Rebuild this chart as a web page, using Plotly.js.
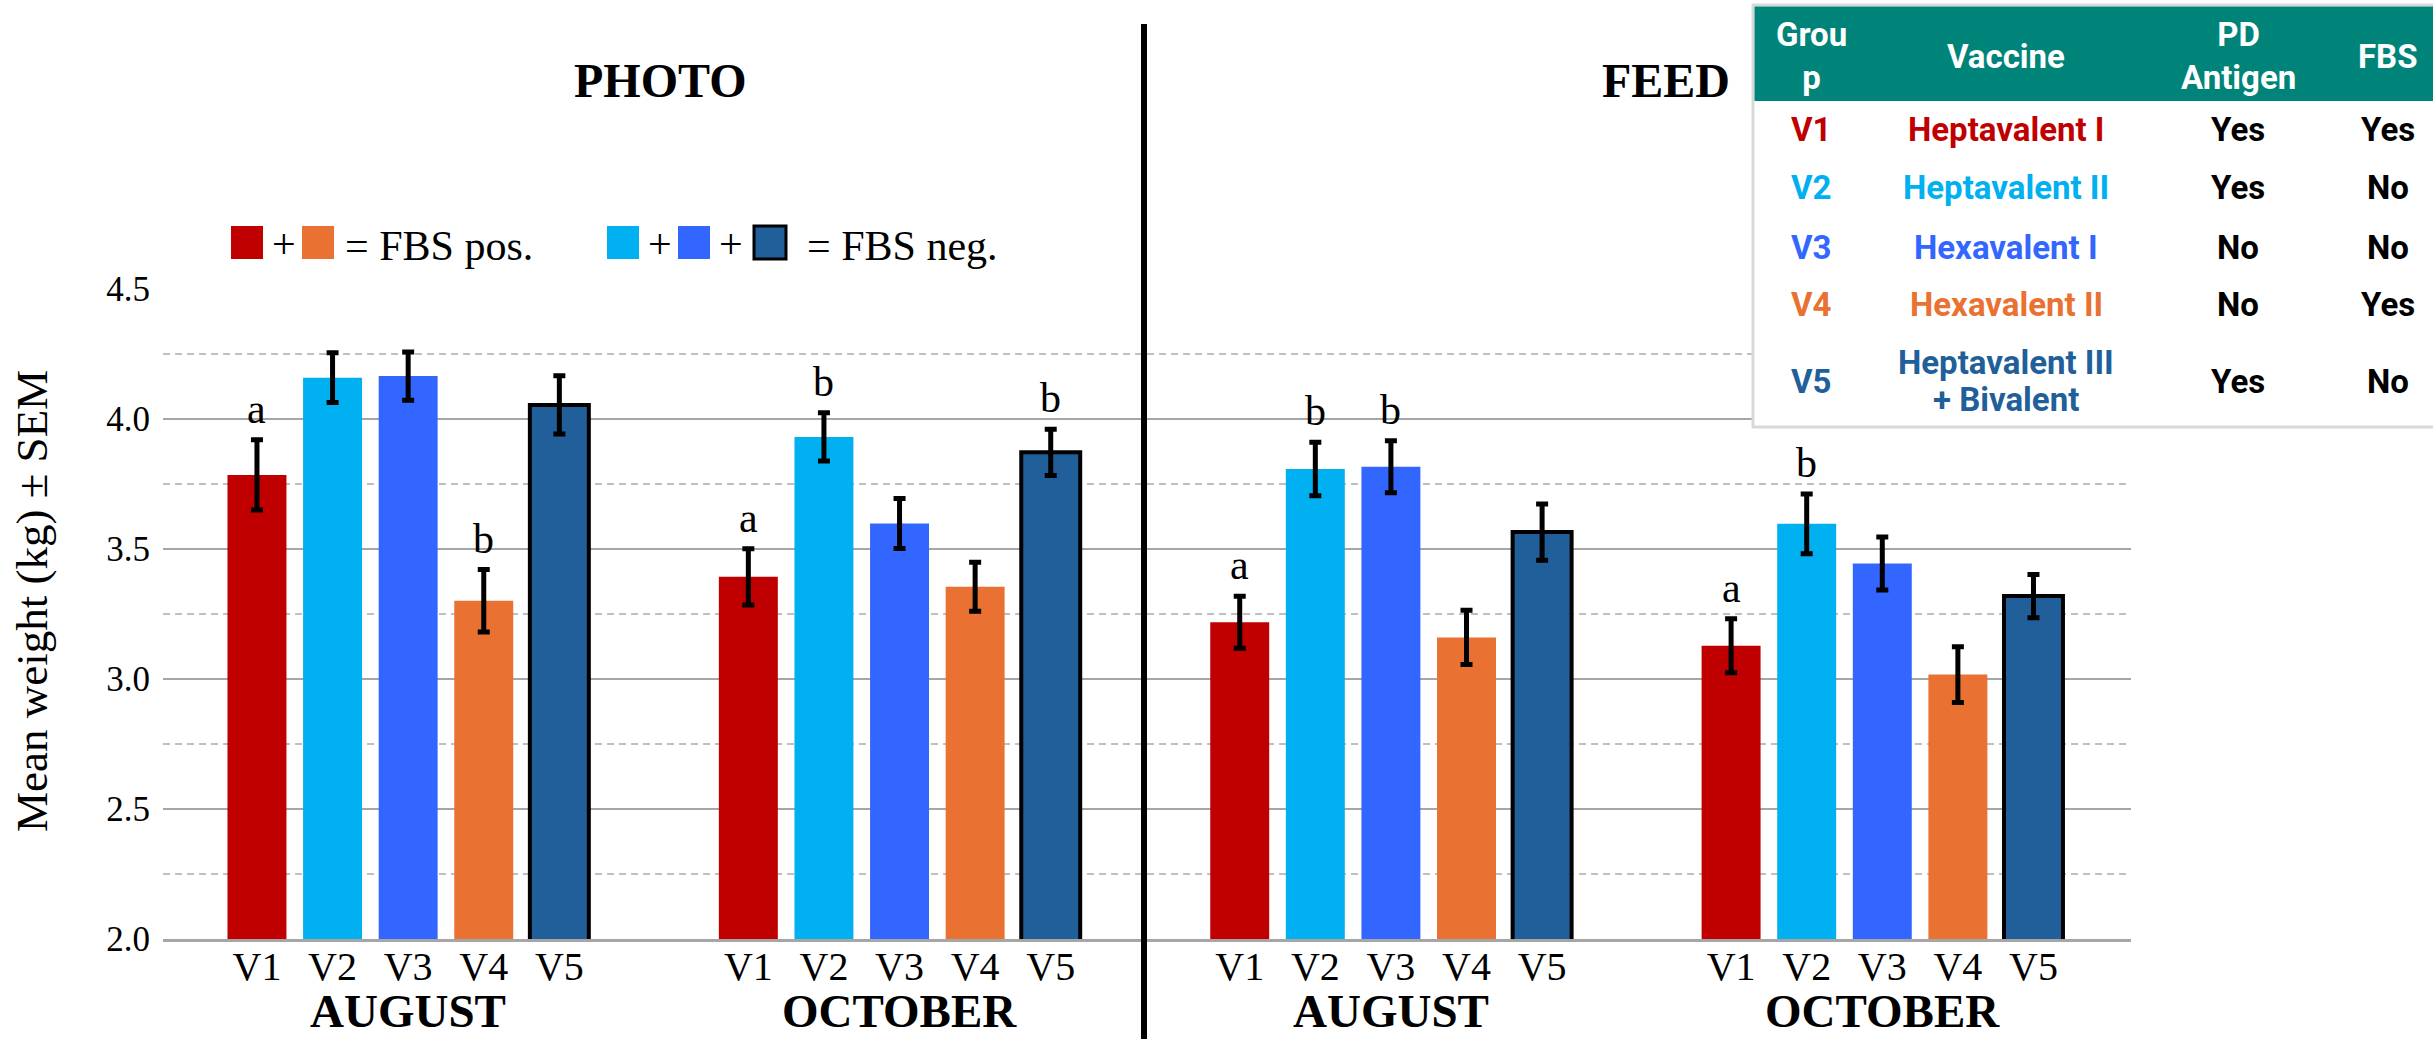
<!DOCTYPE html>
<html><head><meta charset="utf-8">
<script src="https://cdn.plot.ly/plotly-3.0.1.min.js"></script>
<style>html,body{margin:0;padding:0;background:#fff;overflow:hidden}</style>
</head><body><div id="chart" style="width:2433px;height:1039px"></div>
<script>
// ---------- data ----------
const vaccines = ['V1', 'V2', 'V3', 'V4', 'V5'];
const vaccineNames = ['Heptavalent I', 'Heptavalent II', 'Hexavalent I', 'Hexavalent II', 'Heptavalent III<br>+ Bivalent'];
const pdAntigen = ['Yes', 'Yes', 'No', 'No', 'Yes'];
const fbsStatus = ['Yes', 'No', 'No', 'Yes', 'No'];
const tableHeader = ['Grou<br>p', 'Vaccine', 'PD<br>Antigen', 'FBS'];
const panels = ['PHOTO', 'FEED'];
const months = ['AUGUST', 'OCTOBER', 'AUGUST', 'OCTOBER'];

const photoAugMean = [3.785, 4.159, 4.165, 3.301, 4.054];
const photoAugSem  = [0.135, 0.096, 0.093, 0.120, 0.112];
const photoOctMean = [3.393, 3.931, 3.598, 3.355, 3.872];
const photoOctSem  = [0.108, 0.093, 0.096, 0.094, 0.089];
const feedAugMean  = [3.218, 3.808, 3.816, 3.160, 3.565];
const feedAugSem   = [0.100, 0.103, 0.100, 0.104, 0.108];
const feedOctMean  = [3.128, 3.597, 3.444, 3.017, 3.319];
const feedOctSem   = [0.104, 0.115, 0.102, 0.107, 0.083];

const photoAugLetters = ['a', '', '', 'b', ''];
const photoOctLetters = ['a', 'b', '', '', 'b'];
const feedAugLetters  = ['a', 'b', 'b', '', ''];
const feedOctLetters  = ['a', 'b', '', '', ''];

const legendPos = ['= FBS pos.', '= FBS neg.'];

// ---------- styling / layout ----------
const colors = ['#C00000', '#00B0F0', '#3366FF', '#E97132', '#215F9A'];
const serif = 'Liberation Serif, Times New Roman, serif';
const sans = 'Roboto, Open Sans, sans-serif';
const W = 2433, H = 1039;
const L = 163, R = 2131, T = 289, B = 939;
const px = x => (x - L) / (R - L);
const py = y => (B - y) / (B - T);
const groupOffsets = [0, 6.5, 13, 19.5];
const means = [photoAugMean, photoOctMean, feedAugMean, feedOctMean];
const sems = [photoAugSem, photoOctSem, feedAugSem, feedOctSem];
const letters = [photoAugLetters, photoOctLetters, feedAugLetters, feedOctLetters];

const traces = vaccines.map((v, i) => ({
  type: 'bar',
  name: v,
  x: groupOffsets.map(o => o + i),
  y: means.map(m => m[i]),
  width: 0.78,
  marker: {color: colors[i], line: {color: '#000', width: i === 4 ? 4 : 0}},
  error_y: {type: 'data', array: sems.map(s => s[i]), visible: true, color: '#000', thickness: 5, width: 6},
  showlegend: false
}));

const tickvals = [], ticktext = [];
groupOffsets.forEach(o => vaccines.forEach((v, i) => { tickvals.push(o + i); ticktext.push(v); }));

const annotations = [];
// significance letters
letters.forEach((arr, g) => arr.forEach((t, i) => {
  if (!t) return;
  annotations.push({xref: 'x', yref: 'y', x: groupOffsets[g] + i, y: means[g][i] + sems[g][i],
    text: t, showarrow: false, yanchor: 'bottom', yshift: 6, font: {family: serif, size: 42, color: '#000'}});
}));
// month labels
months.forEach((m, g) => {
  annotations.push({xref: 'x', yref: 'paper', x: groupOffsets[g] + 2, y: py(1011), text: '<b>' + m + '</b>',
    showarrow: false, xanchor: 'center', yanchor: 'middle', font: {family: serif, size: 47, color: '#000'}});
});
// panel titles
[[660, panels[0]], [1666, panels[1]]].forEach(([xp, t]) => {
  annotations.push({xref: 'paper', yref: 'paper', x: px(xp), y: py(81), text: '<b>' + t + '</b>',
    showarrow: false, xanchor: 'center', yanchor: 'middle', font: {family: serif, size: 48, color: '#000'}});
});
// y title
annotations.push({xref: 'paper', yref: 'paper', x: px(32), y: py(601), text: 'Mean weight (kg) ± SEM',
  textangle: -90, showarrow: false, xanchor: 'center', yanchor: 'middle', font: {family: serif, size: 45, color: '#000'}});

// custom legend
const shapes = [];
const sq = (x0, c, border) => shapes.push({type: 'rect', xref: 'paper', yref: 'paper', layer: 'above',
  x0: px(x0), x1: px(x0 + 32), y0: py(259), y1: py(226), fillcolor: c,
  line: {color: '#000', width: border ? 3 : 0}});
sq(231, colors[0]); sq(302, colors[3]); sq(607, colors[1]); sq(678, colors[2]); sq(754, colors[4], true);
[284, 660, 731].forEach(xp => annotations.push({xref: 'paper', yref: 'paper', x: px(xp), y: py(244), text: '+',
  showarrow: false, xanchor: 'center', yanchor: 'middle', font: {family: serif, size: 42, color: '#000'}}));
[[343, legendPos[0]], [805, legendPos[1]]].forEach(([xp, t]) => annotations.push({xref: 'paper', yref: 'paper',
  x: px(xp), y: py(246), text: t, showarrow: false, xanchor: 'left', yanchor: 'middle',
  font: {family: serif, size: 42, color: '#000'}}));

// divider
shapes.push({type: 'line', xref: 'paper', yref: 'paper', layer: 'above', x0: px(1144), x1: px(1144),
  y0: py(1045), y1: py(24), line: {color: '#000', width: 6}});

// table
shapes.push({type: 'rect', xref: 'paper', yref: 'paper', layer: 'above', x0: px(1753), x1: px(2450),
  y0: py(427), y1: py(5), fillcolor: '#fff', line: {color: '#D9D9D9', width: 3}});
shapes.push({type: 'rect', xref: 'paper', yref: 'paper', layer: 'above', x0: px(1754.5), x1: px(2450),
  y0: py(101), y1: py(6.5), fillcolor: '#00847A', line: {width: 0}});
const colX = [1811, 2006, 2238, 2388];
tableHeader.forEach((h, c) => annotations.push({xref: 'paper', yref: 'paper', x: px(colX[c]), y: py(56),
  text: '<b>' + h + '</b>', showarrow: false, xanchor: 'center', yanchor: 'middle',
  font: {family: sans, size: 33, color: '#fff'}}));
const rowY = [130, 188, 247, 304, 381];
vaccines.forEach((v, r) => {
  const cell = (c, t, col, yy) => annotations.push({xref: 'paper', yref: 'paper', x: px(colX[c]), y: py(yy),
    text: '<b>' + t + '</b>', showarrow: false, xanchor: 'center', yanchor: 'middle',
    font: {family: sans, size: 33, color: col}});
  cell(0, v, colors[r], rowY[r]);
  const parts = vaccineNames[r].split('<br>');
  parts.forEach((p, k) => cell(1, p, colors[r], rowY[r] + (k - (parts.length - 1) / 2) * 37));
  cell(2, pdAntigen[r], '#000', rowY[r]);
  cell(3, fbsStatus[r], '#000', rowY[r]);
});

const layout = {
  width: W, height: H,
  margin: {l: L, r: W - R, t: T, b: H - B, pad: 0},
  paper_bgcolor: '#fff', plot_bgcolor: '#fff',
  barmode: 'overlay',
  showlegend: false,
  xaxis: {range: [-1.243, 24.79], tickvals: tickvals, ticktext: ticktext, ticks: '', showgrid: false,
    zeroline: false, showline: true, linecolor: '#A6A6A6', linewidth: 2.5, ticklabelstandoff: -10,
    tickfont: {family: serif, size: 40, color: '#000'}, fixedrange: true},
  yaxis: {range: [2, 4.5], dtick: 0.5, tick0: 2, tickformat: '.1f', ticks: '', showline: false, zeroline: false,
    gridcolor: '#A6A6A6', gridwidth: 2.5, ticklabelstandoff: 12,
    minor: {dtick: 0.25, tick0: 2, showgrid: true, gridcolor: '#BFBFBF', gridwidth: 2, griddash: '7px,5px', ticks: ''},
    tickfont: {family: serif, size: 35, color: '#000'}, fixedrange: true},
  shapes: shapes,
  annotations: annotations
};
Plotly.newPlot('chart', traces, layout, {staticPlot: true, displayModeBar: false});
</script></body></html>
